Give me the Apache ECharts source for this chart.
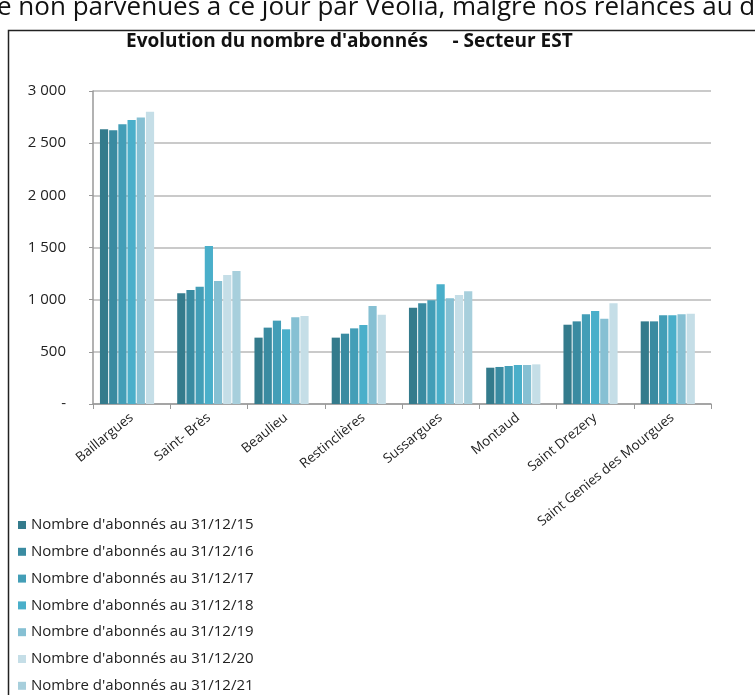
<!DOCTYPE html>
<html>
<head>
<meta charset="utf-8">
<script src="https://cdn.jsdelivr.net/npm/echarts@6/dist/echarts.min.js"></script>
<style>
  html, body { margin: 0; padding: 0; background: #fff; }
  #chart { width: 755px; height: 695px; }
</style>
</head>
<body>
<div id="chart"></div>
<script>
// communes du secteur EST
const communes = ['Baillargues', 'Saint- Brès', 'Beaulieu', 'Restinclières', 'Sussargues', 'Montaud', 'Saint Drezery', 'Saint Genies des Mourgues']

const annees = ['31/12/15', '31/12/16', '31/12/17', '31/12/18', '31/12/19', '31/12/20', '31/12/21']

// nombre d'abonnés par année (null = pas de donnée)
const abonnes2015 = [2633, 1061, 636, 636, 923, 348, 760, 792]
const abonnes2016 = [2623, 1093, 732, 674, 965, 355, 792, 792]
const abonnes2017 = [2681, 1125, 799, 725, 994, 364, 860, 850]
const abonnes2018 = [2722, 1515, 716, 757, 1147, 374, 892, 850]
const abonnes2019 = [2745, 1179, 831, 940, 1013, 374, 818, 860]
const abonnes2020 = [2800, 1237, 844, 856, 1045, 380, 965, 866]
const abonnes2021 = [null, 1275, null, null, 1080, null, null, null]

const yTicks = ['-', '500', '1 000', '1 500', '2 000', '2 500', '3 000']

const couleurs = ['#347b8c', '#3a8ba1', '#439eb7', '#4aafca', '#86c0d3', '#c5dee7', '#a7cfdc']

const valeurs = [abonnes2015, abonnes2016, abonnes2017, abonnes2018, abonnes2019, abonnes2020, abonnes2021]

const chart = echarts.init(document.getElementById('chart'))

const seriesData = annees.map((a, i) => ({
  name: "Nombre d'abonnés au " + a,
  type: 'bar',
  data: valeurs[i],
  itemStyle: { color: couleurs[i] },
  barGap: '12%',
  barCategoryGap: '18%'
}))

chart.setOption({
  animation: false,
  textStyle: { fontFamily: 'Open Sans' },
  color: couleurs,
  title: {
    text: "Evolution du nombre d'abonnés     - Secteur EST",
    left: 121,
    top: 27,
    textStyle: {
      fontFamily: 'Open Sans',
      fontWeight: 'bold',
      fontSize: 19,
      color: '#111'
    }
  },
  graphic: [
    {
      type: 'text',
      left: -3,
      top: -5,
      style: {
        text: 'e non parvenues à ce jour par Veolia, malgré nos relances au d',
        font: '26px "Open Sans"',
        fill: '#111'
      }
    },
    {
      type: 'polyline',
      shape: { points: [[8.5, 760], [8.5, 30.5], [800, 30.5]] },
      style: { stroke: '#222', lineWidth: 1.5, fill: null }
    }
  ],
  legend: {
    orient: 'vertical',
    left: 18,
    top: 517,
    padding: 0,
    itemWidth: 8,
    itemHeight: 8,
    itemGap: 10.8,
    icon: 'rect',
    data: seriesData.map(s => s.name),
    textStyle: { fontSize: 15, color: '#222', lineHeight: 16 }
  },
  grid: {
    left: 93,
    right: 44,
    top: 91,
    bottom: 291
  },
  xAxis: {
    type: 'category',
    data: communes,
    axisLine: { lineStyle: { color: '#999', width: 1.5 } },
    axisTick: { show: true, length: 5, lineStyle: { color: '#999' } },
    axisLabel: {
      rotate: 39,
      margin: 12,
      fontSize: 13.5,
      color: '#222',
      interval: 0
    }
  },
  yAxis: {
    type: 'value',
    min: 0,
    max: 3000,
    interval: 500,
    axisLine: { show: true, lineStyle: { color: '#999', width: 1.5 } },
    axisTick: { show: true, length: 4, lineStyle: { color: '#999' } },
    splitLine: { lineStyle: { color: '#b8b8b8', width: 1.5 } },
    axisLabel: {
      margin: 27,
      fontSize: 15,
      color: '#222',
      formatter: v => yTicks[v / 500]
    }
  },
  series: seriesData
})
</script>
</body>
</html>
